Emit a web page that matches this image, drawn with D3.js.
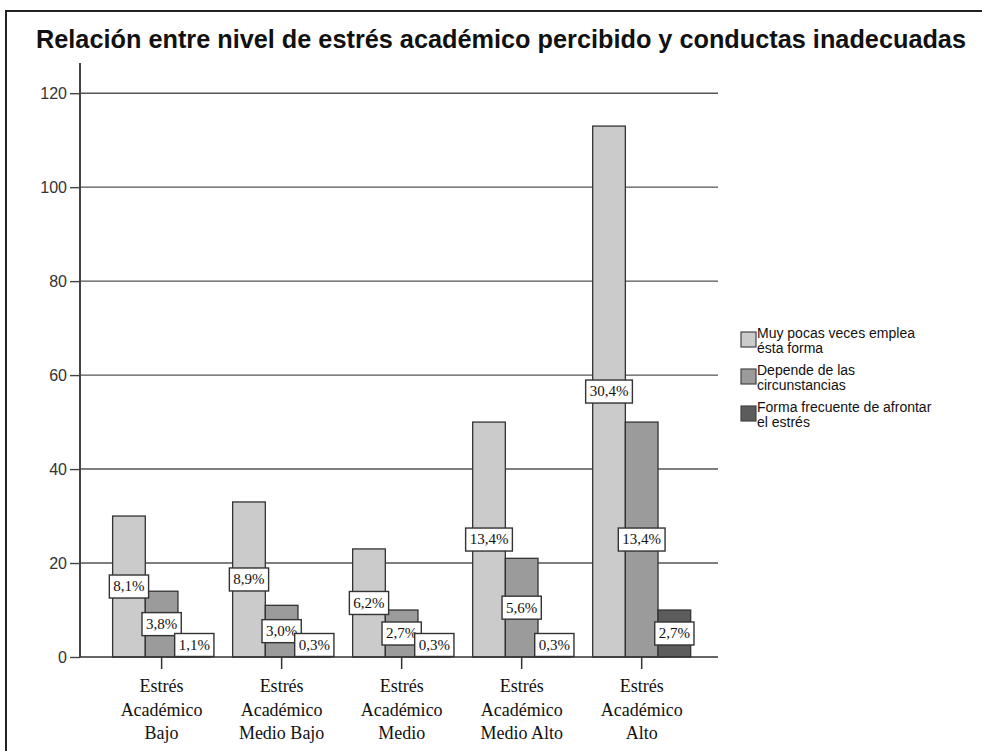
<!DOCTYPE html>
<html>
<head>
<meta charset="utf-8">
<script src="https://cdn.jsdelivr.net/npm/d3@7"></script>
<style>
  body { margin: 0; background: #fff; }
  svg { display: block; }
</style>
</head>
<body>
<svg width="982" height="751"></svg>
<script>
// Data
let categories = ["Estrés Académico Bajo", "Estrés Académico Medio Bajo", "Estrés Académico Medio",
                  "Estrés Académico Medio Alto", "Estrés Académico Alto"];
let categoryLines = [
  ["Estrés", "Académico", "Bajo"],
  ["Estrés", "Académico", "Medio Bajo"],
  ["Estrés", "Académico", "Medio"],
  ["Estrés", "Académico", "Medio Alto"],
  ["Estrés", "Académico", "Alto"]
];
let seriesNames = ["Muy pocas veces emplea ésta forma", "Depende de las circunstancias",
                   "Forma frecuente de afrontar el estrés"];
let legendLines = [
  ["Muy pocas veces emplea", "ésta forma"],
  ["Depende de las", "circunstancias"],
  ["Forma frecuente de afrontar", "el estrés"]
];
let muyPocas = [30, 33, 23, 50, 113];
let depende = [14, 11, 10, 21, 50];
let frecuente = [4, 1, 1, 1, 10];
let muyPocasPct = ["8,1%", "8,9%", "6,2%", "13,4%", "30,4%"];
let dependePct = ["3,8%", "3,0%", "2,7%", "5,6%", "13,4%"];
let frecuentePct = ["1,1%", "0,3%", "0,3%", "0,3%", "2,7%"];
let yTicks = [0, 20, 40, 60, 80, 100, 120];
let colors = ["#cbcbcb", "#9b9b9b", "#5c5c5c"];

let seriesValues = [muyPocas, depende, frecuente];
let seriesPct = [muyPocasPct, dependePct, frecuentePct];

let svg = d3.select("svg");

// outer frame
svg.append("rect")
  .attr("x", 6).attr("y", 11)
  .attr("width", 990).attr("height", 760)
  .attr("fill", "#fff")
  .attr("stroke", "#222")
  .attr("stroke-width", 2);

// title
svg.append("text")
  .attr("x", 36).attr("y", 48)
  .attr("font-family", "Liberation Sans, Arial, sans-serif")
  .attr("font-weight", "bold")
  .attr("font-size", 25)
  .attr("textLength", 930)
  .attr("lengthAdjust", "spacingAndGlyphs")
  .attr("fill", "#111")
  .text("Relación entre nivel de estrés académico percibido y conductas inadecuadas");

// scales
let plotLeft = 80, plotRight = 718;
let x0 = d3.scaleBand()
  .domain(categories)
  .range([plotLeft, plotRight])
  .paddingInner(0)
  .paddingOuter(0.158)
  .align(0.57);

let x1 = d3.scaleBand()
  .domain([0, 1, 2])
  .range([0, x0.bandwidth()])
  .paddingInner(0)
  .paddingOuter(0.337);

let y = d3.scaleLinear()
  .domain([0, 126])
  .range([657, 65]);

// gridlines
svg.append("g")
  .selectAll("line")
  .data(yTicks.filter(d => d > 0))
  .enter()
  .append("line")
  .attr("x1", plotLeft).attr("x2", plotRight)
  .attr("y1", d => y(d)).attr("y2", d => y(d))
  .attr("stroke", "#555")
  .attr("stroke-width", 1.4);

// y axis
let yAxis = svg.append("g")
  .attr("transform", "translate(" + plotLeft + ",0)")
  .call(d3.axisLeft(y).tickValues(yTicks).tickSize(10).tickPadding(3).tickSizeOuter(0));
yAxis.select(".domain").remove();
yAxis.selectAll(".tick line").attr("stroke", "#444").attr("stroke-width", 1.4);
yAxis.selectAll(".tick text")
  .attr("font-family", "Liberation Sans, Arial, sans-serif")
  .attr("font-size", 16)
  .attr("fill", "#333");

svg.append("line")
  .attr("x1", plotLeft).attr("x2", plotLeft)
  .attr("y1", 63).attr("y2", y(0))
  .attr("stroke", "#444")
  .attr("stroke-width", 2);

// bars
let groups = svg.append("g")
  .selectAll("g")
  .data(categories)
  .enter()
  .append("g")
  .attr("transform", d => "translate(" + x0(d) + ",0)");

groups.selectAll("rect")
  .data((d, i) => seriesValues.map((s, k) => ({ k: k, value: s[i] })))
  .enter()
  .append("rect")
  .attr("x", d => x1(d.k))
  .attr("y", d => y(d.value))
  .attr("width", x1.bandwidth())
  .attr("height", d => y(0) - y(d.value))
  .attr("fill", d => colors[d.k])
  .attr("stroke", "#333")
  .attr("stroke-width", 1.3);

// x axis
svg.append("line")
  .attr("x1", plotLeft).attr("x2", plotRight)
  .attr("y1", y(0)).attr("y2", y(0))
  .attr("stroke", "#333")
  .attr("stroke-width", 1.6);

let xAxis = svg.append("g")
  .attr("transform", "translate(0," + y(0) + ")")
  .call(d3.axisBottom(x0).tickSize(12).tickSizeOuter(0).tickFormat(""));
xAxis.select(".domain").remove();
xAxis.selectAll(".tick line").attr("stroke", "#333").attr("stroke-width", 1.5);

categories.forEach(function(c, i) {
  let t = svg.append("text")
    .attr("text-anchor", "middle")
    .attr("font-family", "Liberation Serif, Times New Roman, serif")
    .attr("font-size", 18)
    .attr("fill", "#111");
  categoryLines[i].forEach(function(line, j) {
    t.append("tspan")
      .attr("x", x0(c) + x0.bandwidth() / 2)
      .attr("y", 692 + j * 23.5)
      .text(line);
  });
});

// percentage labels
let labelData = [];
categories.forEach(function(c, i) {
  seriesValues.forEach(function(s, k) {
    labelData.push({ cat: c, k: k, value: s[i], label: seriesPct[k][i] });
  });
});

let labels = svg.append("g")
  .selectAll("g")
  .data(labelData)
  .enter()
  .append("g")
  .attr("transform", function(d) {
    let cx = x0(d.cat) + x1(d.k) + x1.bandwidth() / 2;
    let cy = Math.min(y(d.value / 2), y(0) - 12);
    return "translate(" + cx + "," + cy + ")";
  });

labels.append("text")
  .attr("text-anchor", "middle")
  .attr("dy", "0.33em")
  .attr("font-family", "Liberation Serif, Times New Roman, serif")
  .attr("font-size", 15)
  .attr("fill", "#111")
  .text(d => d.label);

labels.each(function() {
  let g = d3.select(this);
  let w = g.select("text").node().getComputedTextLength() + 8;
  g.insert("rect", "text")
    .attr("x", -w / 2).attr("y", -11.5)
    .attr("width", w).attr("height", 23)
    .attr("fill", "#fff")
    .attr("stroke", "#333")
    .attr("stroke-width", 1.4);
});

// legend
let legend = svg.append("g");
seriesNames.forEach(function(name, k) {
  let top = 326 + k * 37;
  legend.append("rect")
    .attr("x", 741).attr("y", top + 6)
    .attr("width", 15).attr("height", 15)
    .attr("fill", colors[k])
    .attr("stroke", "#444")
    .attr("stroke-width", 1.2);
  legendLines[k].forEach(function(line, j) {
    legend.append("text")
      .attr("x", 757)
      .attr("y", top + 12 + j * 15)
      .attr("font-family", "Liberation Sans, Arial, sans-serif")
      .attr("font-size", 14)
      .attr("fill", "#111")
      .text(line);
  });
});
</script>
</body>
</html>
